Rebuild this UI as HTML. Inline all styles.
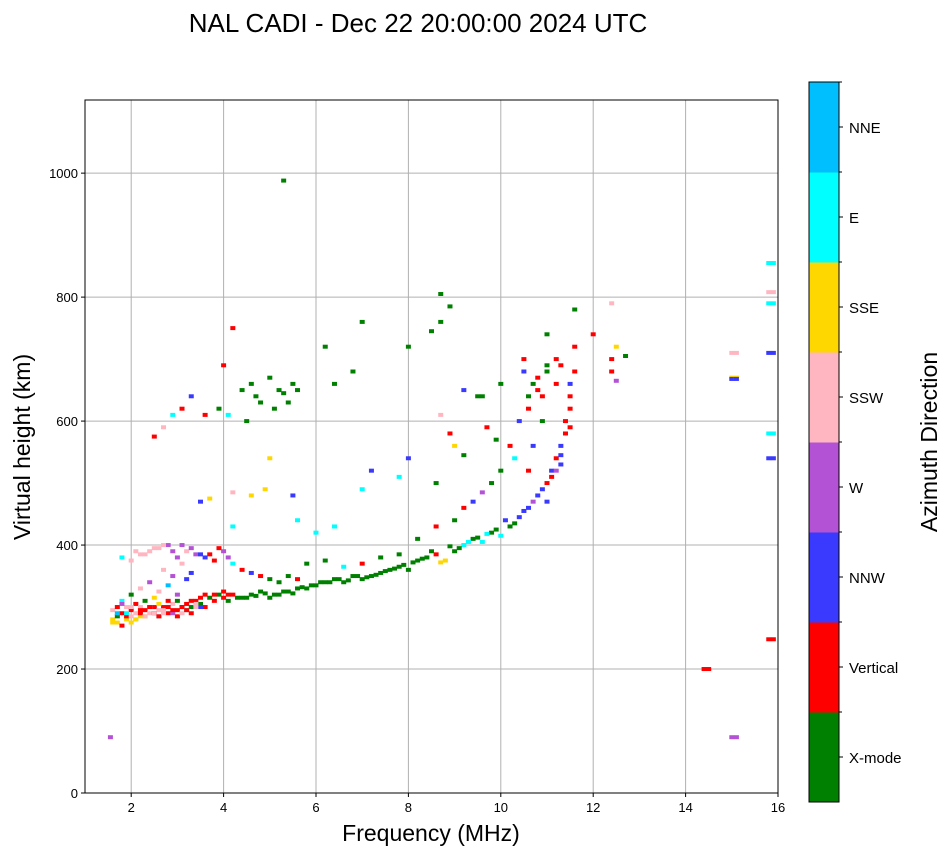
<!DOCTYPE html>
<html><head><meta charset="utf-8"><style>
body{margin:0;background:#fff;}
svg text{font-family:"Liberation Sans",sans-serif;}
</style></head><body>
<svg id="chart" width="951" height="856" xmlns="http://www.w3.org/2000/svg">
<rect width="951" height="856" fill="#fff"/>
<text x="418" y="32" font-size="26" text-anchor="middle">NAL CADI - Dec 22 20:00:00 2024 UTC</text>
<g id="grid"></g>
<g id="marks"></g>
<rect x="85" y="100" width="693" height="693" fill="none" stroke="#000" stroke-width="1"/>
<g id="xticks"></g>
<g id="yticks"></g>
<text x="431" y="841" font-size="23" text-anchor="middle">Frequency (MHz)</text>
<text transform="translate(30,447) rotate(-90)" font-size="23" text-anchor="middle">Virtual height (km)</text>
<g id="cbar"></g>
<text transform="translate(937,442) rotate(-90)" font-size="23" text-anchor="middle">Azimuth Direction</text>
</svg>
<script>
const dirLabels=["X-mode","Vertical","NNW","W","SSW","SSE","E","NNE"];
const dirColors=["#008000","#ff0000","#3a3aff","#b452d6","#ffb6c1","#ffd700","#00ffff","#00bfff"];
const xTicks=[2,4,6,8,10,12,14,16];
const yTicks=[0,200,400,600,800,1000];
const freqMain=[1.6,1.6,1.7,1.7,1.8,1.8,1.9,1.9,2.0,2.0,2.0,2.1,2.1,2.2,2.2,2.3,2.3,2.4,2.5,2.5,2.6,2.7,2.8,2.9,3.0,3.0,3.1,3.2,3.3,3.4,3.5,3.6,3.7,3.8,3.9,4.0,4.1,4.2,
1.6,1.7,1.8,1.9,2.0,2.1,2.2,2.3,2.4,2.5,2.6,2.7,2.8,2.9,3.0,3.1,3.2,3.3,3.4,3.5,2.2,2.4,2.6,2.8,3.0,3.2,2.7,2.9,3.1,3.3,
4.4,4.6,4.8,5.0,5.2,5.4,5.6,5.8,6.0,6.2,6.4,6.6,6.8,7.0,7.2,7.4,7.6,7.8,8.0,8.2,8.4,8.6,8.8,9.0,9.2,9.4,9.6,9.8,10.0,10.2,10.4,10.6,10.8,11.0,11.1,11.2,11.3,11.4,11.5,11.6,11.6,
1.8,2.0,2.2,2.4,2.6,2.8,3.0,3.2,3.4,3.6,3.8,4.0,4.2,4.4,4.6,4.8,5.0,5.2,5.4,5.6,5.8,6.2,6.6,7.0,7.4,7.8,8.2,8.6,9.0,9.2,9.4,9.6,9.8,10.0,10.2,10.4,10.6,10.8,11.0,11.2,
2.5,2.7,2.9,3.1,3.3,3.6,3.9,4.0,4.1,4.2,4.4,4.7,5.0,5.2,5.4,5.5,6.2,6.4,6.8,7.0,8.0,8.5,8.7,8.9,8.7,9.5,10.0,10.5,11.0,11.6,12.0,12.4,12.4,12.5,12.7,12.5,12.4,
3.5,3.7,4.2,4.2,4.6,4.9,5.0,5.5,5.6,6.0,6.4,7.0,7.2,7.8,8.0,8.6,8.7,8.9,9.0,9.2,9.2,9.6,9.7,9.9,10.3,10.6,10.7,10.9,11.3,11.5,
14.4,15.0,15.0,15.0,15.0,15.9,15.9,15.9,15.9,15.9,15.9,15.9,1.55,5.3];
const heightMain=[280,295,300,285,290,310,280,300,275,295,320,290,305,285,300,295,310,290,300,315,295,300,290,305,295,310,300,305,300,310,305,300,315,310,320,315,310,320,
275,290,305,285,300,280,290,285,300,290,285,295,300,290,285,300,295,290,305,300,330,340,325,335,320,345,360,350,370,355,
315,320,325,315,320,325,330,330,335,340,345,340,350,345,350,355,360,365,360,375,380,385,375,390,400,410,405,420,415,430,445,460,480,500,520,540,560,600,640,680,720,
380,375,385,390,395,400,380,390,385,380,375,390,370,360,355,350,345,340,350,345,370,375,365,370,380,385,410,430,440,460,470,485,500,520,560,600,640,670,690,700,
575,590,610,620,640,610,620,690,610,750,650,640,670,650,630,660,720,660,680,760,720,745,805,785,760,640,660,700,740,780,740,700,680,720,705,665,790,
470,475,485,430,480,490,540,480,440,420,430,490,520,510,540,500,610,580,560,545,650,640,590,570,540,520,560,600,530,590,
200,90,670,710,668,855,808,790,710,580,540,248,90,988];
const dirMain=[5,4,1,0,1,6,5,4,5,1,0,4,1,5,4,1,0,4,1,5,4,1,1,4,1,0,1,1,0,1,0,1,0,1,0,1,0,1,
5,7,3,1,4,6,1,5,4,1,7,4,1,3,4,1,6,1,4,2,4,3,4,7,3,2,4,3,4,2,
0,0,0,0,0,0,0,0,0,0,0,0,0,0,0,0,0,0,0,0,0,1,5,0,6,0,6,0,6,0,2,2,2,1,2,1,2,1,1,1,1,
6,4,4,4,4,3,3,4,3,2,1,3,6,1,2,1,0,0,0,1,0,0,6,1,0,0,0,1,0,1,2,3,0,0,1,2,0,1,0,1,
1,4,6,1,2,1,0,1,6,1,0,0,0,0,0,0,0,0,0,0,0,0,0,0,0,0,0,1,0,0,1,1,1,5,0,3,4,
2,5,4,6,5,5,5,2,6,6,6,6,2,6,2,0,4,1,5,0,2,0,1,0,6,1,2,0,2,1,
1,3,5,4,2,6,4,6,2,6,2,1,3,0];
const freqExtra=[1.7,1.8,1.9,2.0,2.1,2.2,2.3,2.4,2.5,2.6,2.6,2.7,2.8,2.9,3.0,3.1,3.2,3.3,3.4,3.5,3.6,3.8,4.0,4.1,
4.3,4.5,4.7,4.9,5.1,5.3,5.5,5.7,5.9,6.1,6.3,6.5,6.7,6.9,7.1,7.3,7.5,7.7,7.9,8.1,8.3,8.5,8.7,8.9,9.1,9.3,9.5,9.7,9.9,10.1,10.3,10.5,10.7,10.9,11.0,11.1,11.2,11.3,11.4,11.5,11.5,10.8,10.9,11.0,11.2,11.3,10.6,10.5,10.7,
4.5,4.8,5.1,5.3,5.6,4.6,2.1,2.3,2.5,2.7,2.9,3.1,3.3,3.5,3.7,3.9,4.1,
14.5,15.1,15.1,15.1,15.1,15.8,15.8,15.8,15.8,15.8,15.8,15.8];
const heightExtra=[275,270,290,285,280,295,285,300,290,285,305,290,310,295,285,290,295,310,300,315,320,320,325,320,
315,315,318,322,320,325,322,332,335,340,340,345,343,350,348,352,358,362,368,372,378,390,372,398,395,405,412,418,425,440,435,455,470,490,470,510,520,545,580,620,660,650,640,680,660,690,620,680,660,
600,630,620,645,650,660,390,385,395,400,390,400,395,385,385,395,380,
200,90,670,710,668,855,808,790,710,580,540,248];
const dirExtra=[5,1,6,4,5,1,4,1,4,1,5,4,1,1,1,4,1,1,4,1,1,1,1,1,
0,0,0,0,0,0,0,0,0,0,0,0,0,0,0,0,0,0,0,0,0,0,5,0,0,6,0,6,0,2,0,2,3,2,2,1,3,2,1,1,2,1,1,0,1,1,1,2,0,
0,0,0,0,0,0,4,4,4,4,3,3,3,2,1,1,3,
1,3,5,4,2,6,4,6,2,6,2,1];
const freq=freqMain.concat(freqExtra), height=heightMain.concat(heightExtra), dir=dirMain.concat(dirExtra);
const NS="http://www.w3.org/2000/svg";
const X0=85,X1=778,Y0=793,Y1=100,FMIN=1,FMAX=16,HMIN=0,HMAX=1118;
const xs=f=>X0+(f-FMIN)/(FMAX-FMIN)*(X1-X0);
const ys=h=>Y0-(h-HMIN)/(HMAX-HMIN)*(Y0-Y1);
function mk(tag,attrs,parent){const e=document.createElementNS(NS,tag);for(const k in attrs)e.setAttribute(k,attrs[k]);parent.appendChild(e);return e;}
const grid=document.getElementById('grid'),xt=document.getElementById('xticks'),yt=document.getElementById('yticks');
xTicks.forEach(t=>{const x=xs(t);
 const g=mk('line',{x1:x,x2:x,y1:Y1,y2:Y0,stroke:'#b0b0b0','stroke-width':1},grid);
 
 
 mk('line',{x1:x,x2:x,y1:Y0,y2:Y0+4,stroke:'#000'},xt);
 const tx=mk('text',{x:x,y:Y0+19,'font-size':13,'text-anchor':'middle'},xt);tx.textContent=t;
 
 });
yTicks.forEach(t=>{const y=ys(t);
 const g=mk('line',{x1:X0,x2:X1,y1:y,y2:y,stroke:'#b0b0b0','stroke-width':1},grid);
 
 
 mk('line',{x1:X0-4,x2:X0,y1:y,y2:y,stroke:'#000'},yt);
 const tx=mk('text',{x:X0-7,y:y+5,'font-size':13,'text-anchor':'end'},yt);tx.textContent=t;
 
 });
const marks=document.getElementById('marks');
for(let i=0;i<freq.length;i++){
 const r=mk('rect',{x:xs(freq[i])-2.5,y:ys(height[i])-2,width:5,height:4,fill:dirColors[dir[i]]},marks);
 
 
}
const cb=document.getElementById('cbar');const CX=809,CW=30,CT=82,CB=802,seg=(CB-CT)/dirLabels.length;
dirLabels.forEach((l,i)=>{const y=CB-(i+1)*seg;
 const r=mk('rect',{x:CX,y:y,width:CW,height:seg+0.5,fill:dirColors[i]},cb);
 
 
 mk('line',{x1:CX+CW,x2:CX+CW+4,y1:y+seg/2,y2:y+seg/2,stroke:'#000'},cb);
 mk('line',{x1:CX+CW,x2:CX+CW+3,y1:y,y2:y,stroke:'#000'},cb);
 const t=mk('text',{x:CX+CW+10,y:y+seg/2+6,'font-size':15},cb);t.textContent=l;
 
 });
mk('rect',{x:CX,y:CT,width:CW,height:CB-CT,fill:'none',stroke:'#000'},cb);
</script>
</body></html>
